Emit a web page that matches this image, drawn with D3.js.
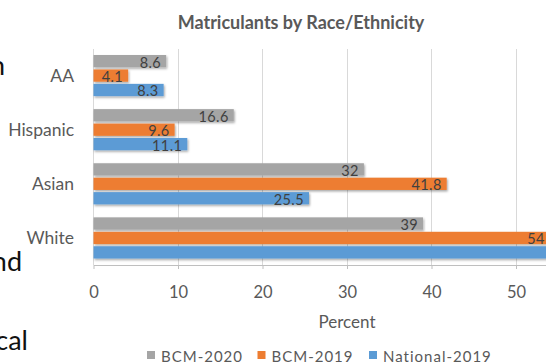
<!DOCTYPE html>
<html>
<head>
<meta charset="utf-8">
<script src="https://cdn.jsdelivr.net/npm/d3@7"></script>
<style>
  html, body { margin: 0; padding: 0; background: #ffffff; overflow: hidden; }
  svg { display: block; }
</style>
</head>
<body>
<script>
// ---- data ----
const categories = ["AA", "Hispanic", "Asian", "White"];
const seriesNames = ["BCM-2020", "BCM-2019", "National-2019"];
const bcm2020 = [8.6, 16.6, 32, 39];
const bcm2019 = [4.1, 9.6, 41.8, 54];
const national2019 = [8.3, 11.1, 25.5, 57];
const xTicks = [0, 10, 20, 30, 40, 50, 60];
const titleText = "Matriculants by Race/Ethnicity";
const xAxisTitle = "Percent";
const sideFragments = ["n", "nd", "cal"]; // text from the slide behind the chart

const seriesValues = [bcm2020, bcm2019, national2019];
const colors = ["#a5a5a5", "#ed7d31", "#5b9bd5"];

const W = 546, H = 362;
const FONT = "Lato, 'Open Sans', sans-serif";

const svg = d3.select("body").append("svg")
  .attr("width", W).attr("height", H)
  .attr("viewBox", `0 0 ${W} ${H}`);

const defs = svg.append("defs");
const f = defs.append("filter").attr("id", "shadow")
  .attr("x", "-5%").attr("y", "-30%").attr("width", "115%").attr("height", "180%");
f.append("feDropShadow").attr("dx", 1).attr("dy", 1.5)
  .attr("stdDeviation", 0.9).attr("flood-color", "#000").attr("flood-opacity", 0.35);

// scales
const x = d3.scaleLinear().domain([0, 60]).range([93.5, 600.5]);
const y = d3.scaleBand().domain(categories).range([48.5, 265])
  .paddingInner(0.24).paddingOuter(0.12);
const yInner = d3.scaleBand().domain(seriesNames).range([0, y.bandwidth()])
  .paddingInner(0.15);

// title
svg.append("text")
  .attr("x", 301).attr("y", 22)
  .attr("text-anchor", "middle").attr("dominant-baseline", "central")
  .attr("font-family", FONT).attr("font-weight", "bold").attr("font-size", 18)
  .attr("fill", "#595959")
  .text(titleText);

// gridlines
svg.append("g").selectAll("line").data(xTicks).join("line")
  .attr("x1", d => x(d)).attr("x2", d => x(d))
  .attr("y1", 48.5).attr("y2", 265)
  .attr("stroke", "#d9d9d9").attr("stroke-width", 1)
  .attr("shape-rendering", "crispEdges");

// x axis
const xAxis = svg.append("g")
  .attr("transform", `translate(0,265)`)
  .call(d3.axisBottom(x).tickValues(xTicks).tickSize(4).tickPadding(17).tickSizeOuter(0));
xAxis.select(".domain").attr("stroke", "#bfbfbf");
xAxis.selectAll(".tick line").attr("stroke", "#bfbfbf");
xAxis.selectAll(".tick text")
  .attr("font-family", FONT).attr("font-size", 16.5).attr("fill", "#595959");

// axis title
svg.append("text")
  .attr("x", (x(0) + x(60)) / 2).attr("y", 321)
  .attr("text-anchor", "middle").attr("dominant-baseline", "central")
  .attr("font-family", FONT).attr("font-size", 17).attr("fill", "#595959")
  .text(xAxisTitle);

// category labels
svg.append("g").selectAll("text").data(categories).join("text")
  .attr("x", 74).attr("y", d => y(d) + y.bandwidth() / 2)
  .attr("text-anchor", "end").attr("dominant-baseline", "central")
  .attr("font-family", FONT).attr("font-size", 17.5).attr("fill", "#595959")
  .text(d => d);

// bars
const rows = [];
categories.forEach((c, i) => {
  seriesNames.forEach((s, j) => rows.push({ cat: c, series: s, value: seriesValues[j][i], color: colors[j] }));
});

const barG = svg.append("g");
barG.selectAll("rect").data(rows).join("rect")
  .attr("x", x(0))
  .attr("y", d => y(d.cat) + yInner(d.series))
  .attr("width", d => x(d.value) - x(0))
  .attr("height", yInner.bandwidth())
  .attr("fill", d => d.color)
  .attr("filter", "url(#shadow)");

// value labels
svg.append("g").selectAll("text").data(rows).join("text")
  .attr("x", d => x(d.value) - 5)
  .attr("y", d => y(d.cat) + yInner(d.series) + yInner.bandwidth() / 2 + 1)
  .attr("text-anchor", "end").attr("dominant-baseline", "central")
  .attr("font-family", FONT).attr("font-size", 14.5).attr("fill", "#404040")
  .attr("letter-spacing", 0.4)
  .text(d => d.value);

// legend
const legendX = [147, 257.5, 369];
const lg = svg.append("g").selectAll("g").data(seriesNames).join("g")
  .attr("transform", (d, i) => `translate(${legendX[i]},355.5)`);
lg.append("rect").attr("x", 0).attr("y", -4.5).attr("width", 8).attr("height", 8)
  .attr("fill", (d, i) => colors[i]);
lg.append("text").attr("x", 14).attr("y", 0)
  .attr("dominant-baseline", "central")
  .attr("font-family", FONT).attr("font-size", 15).attr("fill", "#595959")
  .attr("letter-spacing", 1)
  .text(d => d);

// slide text fragments at left edge
const fragPos = [[5, 75], [22, 271], [28, 350]];
svg.append("g").selectAll("text").data(sideFragments).join("text")
  .attr("x", (d, i) => fragPos[i][0]).attr("y", (d, i) => fragPos[i][1])
  .attr("text-anchor", "end")
  .attr("font-family", FONT).attr("font-size", 27).attr("fill", "#111111")
  .text(d => d);
</script>
</body>
</html>
